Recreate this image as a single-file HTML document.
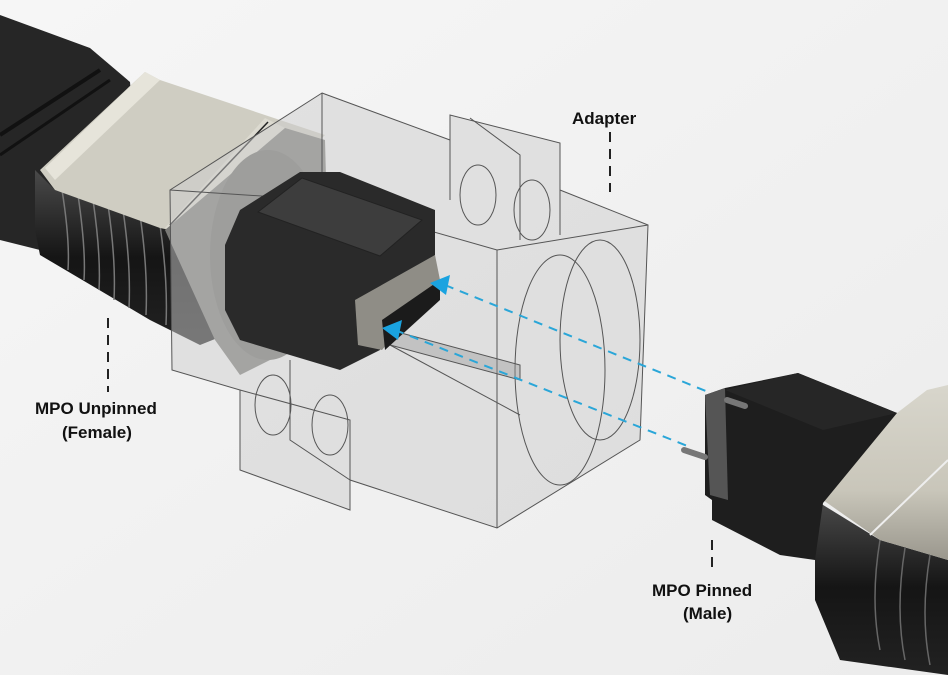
<!DOCTYPE html>
<html><head><meta charset="utf-8"><style>
html,body{margin:0;padding:0;width:948px;height:675px;overflow:hidden;background:#f1f1f1}
svg{display:block}
text{font-family:"Liberation Sans",sans-serif;font-size:17px;fill:#111}
</style></head><body>
<svg width="948" height="675" viewBox="0 0 948 675">
<defs>
<linearGradient id="bg" x1="0" y1="0" x2="1" y2="1"><stop offset="0" stop-color="#f6f6f6"/><stop offset="1" stop-color="#ececec"/></linearGradient>
<linearGradient id="blk" x1="0" y1="0" x2="0" y2="1"><stop offset="0" stop-color="#4a4a4a"/><stop offset="0.5" stop-color="#151515"/><stop offset="1" stop-color="#222"/></linearGradient>
<linearGradient id="beige" x1="0" y1="0" x2="0" y2="1"><stop offset="0" stop-color="#d8d6cc"/><stop offset="0.6" stop-color="#c9c6ba"/><stop offset="1" stop-color="#9a978d"/></linearGradient>
</defs>
<rect width="948" height="675" fill="url(#bg)"/>

<!-- left cable -->
<polygon points="0,15 90,48 130,82 140,200 60,255 0,240" fill="#262626"/>
<line x1="0" y1="135" x2="100" y2="70" stroke="#111" stroke-width="4"/>
<line x1="0" y1="155" x2="110" y2="80" stroke="#111" stroke-width="3"/>
<!-- boot -->
<polygon points="35,170 55,190 220,240 225,335 200,345 150,320 40,255 35,230" fill="url(#blk)"/>
<g stroke="#777" stroke-width="1.5" fill="none">
<path d="M62,190 Q70,240 68,270"/><path d="M78,195 Q86,250 84,280"/><path d="M93,200 Q101,255 99,290"/><path d="M108,205 Q116,260 114,300"/><path d="M123,210 Q131,265 129,308"/><path d="M140,215 Q148,270 146,315"/><path d="M160,225 Q168,280 166,325"/>
</g>
<!-- beige housing -->
<polygon points="40,170 145,72 160,80 325,135 220,240 160,228 55,190" fill="#cfcdc2"/>
<polygon points="145,72 160,80 55,180 45,168" fill="#e6e4da"/>
<polygon points="265,118 285,128 180,235 165,228" fill="#dcdad0"/>
<line x1="268" y1="122" x2="170" y2="225" stroke="#222" stroke-width="1.5"/>
<!-- grey ring -->
<polygon points="165,230 285,128 325,140 330,330 240,375 215,340" fill="#7a7a77"/>
<ellipse cx="268" cy="255" rx="58" ry="105" fill="#6e6e6b"/>
<!-- adapter -->
<polygon points="322,93 450,140 450,115 560,143 560,190 648,225 640,440 497,528 350,480 350,510 240,470 240,390 172,370 170,190" fill="rgba(205,205,205,0.5)" stroke="#555" stroke-width="1"/>
<g stroke="#555" stroke-width="1" fill="none">
<path d="M322,93 L322,200 L170,190"/><path d="M322,200 L497,250 L648,225"/><path d="M497,250 L497,528"/>
<path d="M450,115 L450,200"/><path d="M560,143 L560,235"/><path d="M470,118 L520,155 L520,240"/>
<ellipse cx="478" cy="195" rx="18" ry="30"/><ellipse cx="532" cy="210" rx="18" ry="30"/>
<ellipse cx="273" cy="405" rx="18" ry="30"/><ellipse cx="330" cy="425" rx="18" ry="30"/>
<path d="M240,390 L350,420 L350,480"/><path d="M290,360 L290,440 L350,480"/>
<ellipse cx="560" cy="370" rx="45" ry="115"/><ellipse cx="600" cy="340" rx="40" ry="100"/>
<path d="M390,330 L520,365 L520,380 L390,345 Z" fill="rgba(150,150,150,0.4)"/>
<path d="M390,345 L520,415"/>
</g>
<!-- left dark plug -->
<polygon points="240,210 300,172 340,172 435,210 435,255 380,300 380,350 340,370 240,340 225,310 225,245" fill="#2a2a2a"/>
<polygon points="258,212 302,178 422,220 380,256" fill="#3d3d3d" stroke="#222"/>
<polygon points="355,300 435,255 440,280 382,350 358,345" fill="#8f8d86"/>
<polygon points="382,320 440,280 440,300 385,350" fill="#1b1b1b"/>
<!-- dashed lines -->
<g stroke="#2aa6d8" stroke-width="2" stroke-dasharray="9,7" fill="none">
<line x1="445" y1="285" x2="728" y2="400"/><line x1="395" y1="330" x2="690" y2="447"/>
</g>
<polygon points="430,283 450,275 446,295" fill="#1aa3e0"/>
<polygon points="382,328 402,320 398,340" fill="#1aa3e0"/>
<!-- right connector -->
<polygon points="815,500 880,540 948,560 948,675 840,660 815,600" fill="url(#blk)"/>
<g stroke="#666" stroke-width="1.5" fill="none"><path d="M880,540 Q870,600 880,650"/><path d="M905,548 Q895,610 905,660"/><path d="M930,555 Q920,615 930,665"/></g>
<polygon points="823,500 897,413 927,390 948,385 948,560 880,540" fill="url(#beige)"/>
<line x1="870" y1="535" x2="948" y2="460" stroke="#eee" stroke-width="2"/>
<polygon points="705,395 725,388 798,373 897,413 823,503 815,560 780,555 712,520 712,500 705,495" fill="#1e1e1e"/>
<polygon points="725,390 798,373 897,413 823,430" fill="#262626"/>
<polygon points="705,395 725,388 728,500 710,495" fill="#555"/>
<line x1="727" y1="400" x2="745" y2="406" stroke="#777" stroke-width="6" stroke-linecap="round"/>
<line x1="684" y1="450" x2="705" y2="457" stroke="#777" stroke-width="6" stroke-linecap="round"/>
<!-- labels -->
<text x="572" y="124" font-weight="bold">Adapter</text>
<line x1="610" y1="132" x2="610" y2="192" stroke="#222" stroke-width="2" stroke-dasharray="10,7"/>
<line x1="108" y1="318" x2="108" y2="392" stroke="#222" stroke-width="2" stroke-dasharray="10,7"/>
<text x="35" y="414" font-weight="bold">MPO Unpinned</text>
<text x="62" y="438" font-weight="bold">(Female)</text>
<line x1="712" y1="540" x2="712" y2="572" stroke="#222" stroke-width="2" stroke-dasharray="10,7"/>
<text x="652" y="596" font-weight="bold">MPO Pinned</text>
<text x="683" y="619" font-weight="bold">(Male)</text>
</svg>
</body></html>
